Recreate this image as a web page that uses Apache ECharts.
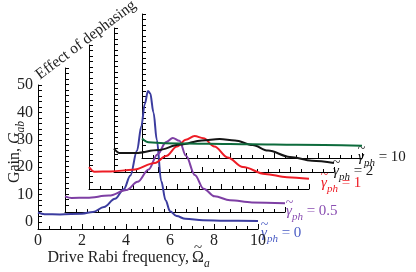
<!DOCTYPE html>
<html><head><meta charset="utf-8">
<script src="https://cdn.jsdelivr.net/npm/echarts@6/dist/echarts.min.js"></script>
<style>html,body{margin:0;padding:0;background:#fff}#c{width:416px;height:272px}</style>
</head><body><div id="c"></div>
<script>
// ---- data ----
const xTickLabels = [0, 2, 4, 6, 8, 10];
const yTickLabels = [0, 10, 20, 30, 40, 50];
const gammaValues = ['0', '0.5', '1', '2', '10'];

const xG0 = [0, 0.3, 1, 2, 2.5, 3, 3.5, 3.9, 4.2, 4.5, 4.7, 4.85, 5.0, 5.1, 5.25, 5.4, 5.6, 5.8, 6.0, 6.3, 6.7, 7.5, 8.5, 10];
const yG0 = [3.5, 2.9, 2.8, 3.1, 3.7, 5.5, 8.5, 12, 17, 26, 35, 43, 47.8, 47, 40, 30, 15, 8, 4, 2.2, 1.2, 0.7, 0.5, 0.4];

const xG05 = [0, 0.3, 1, 2, 2.8, 3.3, 3.8, 4.2, 4.6, 4.9, 5.2, 5.5, 5.9, 6.3, 6.8, 7.5, 8.5, 10];
const yG05 = [3.2, 2.6, 2.7, 3.5, 5.5, 8.5, 13, 18.5, 23, 24.5, 23.5, 18, 11, 6, 3.2, 1.8, 1.0, 0.7];

const xG1 = [0, 0.25, 1, 2, 3, 3.5, 4, 4.4, 4.8, 5.2, 5.7, 6.3, 7, 8, 9, 10];
const yG1 = [5.5, 3.8, 3.9, 4.5, 7, 9.5, 13, 15.5, 16.8, 16, 13, 9, 5.5, 3, 1.8, 1.2];

const xG2 = [0, 0.25, 1, 2, 3, 4, 4.8, 5.5, 6.3, 7, 8, 9, 10];
const yG2 = [6, 4.4, 4.4, 5.5, 7.5, 9, 9.5, 9, 7.3, 5.3, 3, 1.6, 0.8];

const xG10 = [0, 0.3, 1, 3, 5, 7, 10];
const yG10 = [4.6, 3.2, 2.9, 2.7, 2.5, 2.3, 2.0];

const seriesX = [xG0, xG05, xG1, xG2, xG10];
const seriesY = [yG0, yG05, yG1, yG2, yG10];

// ---- layout / style ----
const lineColors = ['#3b3c9f', '#7e3fa4', '#ee1c25', '#151515', '#0d6b3c'];
const labelColors = ['#4a5cc4', '#8a4fb2', '#ee1c25', '#1a1a1a', '#1a1a1a'];
const panelPos = [[38, 85], [65, 68], [89, 45], [114, 28], [142, 14]];
const labelPos = [[261, 233], [286, 211], [321, 183], [333, 171], [358, 157]];
const FONT = 'Liberation Serif';

const yTickVals = [];
for (let v = 0; v <= 50; v += 2) yTickVals.push(v);

const grid = [], xAxis = [], yAxis = [], series = [];
panelPos.forEach((p, i) => {
  grid.push({ left: p[0], top: p[1], width: 220, height: 144 });
  xAxis.push({
    type: 'value', gridIndex: i, min: 0, max: 10, interval: 2, position: 'bottom',
    axisLine: { show: true, onZero: false, lineStyle: { color: '#000', width: 1 } },
    axisTick: { show: true, inside: true, length: 5, lineStyle: { color: '#000' } },
    minorTick: { show: true, splitNumber: 4, length: 3, lineStyle: { color: '#000' } },
    axisLabel: { show: i === 0, fontFamily: FONT, fontSize: 16, color: '#222', margin: 4 },
    splitLine: { show: false }, minorSplitLine: { show: false }
  });
  yAxis.push({
    type: 'value', gridIndex: i, min: -2.5, max: 50, position: 'left',
    axisLine: { show: true, onZero: false, lineStyle: { color: '#000', width: 1 } },
    axisTick: { show: true, inside: true, length: 4, customValues: yTickVals, lineStyle: { color: '#000' } },
    axisLabel: { show: i === 0, customValues: yTickLabels, fontFamily: FONT, fontSize: 16, color: '#222', margin: 5 },
    splitLine: { show: false }
  });
  series.push({
    type: 'line', xAxisIndex: i, yAxisIndex: i,
    data: seriesX[i].map((x, k) => [x, seriesY[i][k]]),
    showSymbol: false, smooth: 0.35, smoothMonotone: 'x',
    lineStyle: { color: lineColors[i], width: 2 }, z: 3 + i
  });
});

const graphic = [];
const GS = 15;
gammaValues.forEach((g, i) => {
  const c = labelColors[i];
  graphic.push({
    type: 'group', x: labelPos[i][0], y: labelPos[i][1], z: 10,
    children: [
      {
        type: 'text', x: 0, y: 0,
        style: {
          text: '{g|γ}{s|ph}{e| = ' + g + '}', align: 'left', verticalAlign: 'middle',
          rich: {
            g: { fontFamily: FONT, fontSize: GS, fontStyle: 'italic', fill: c, lineHeight: 24, verticalAlign: 'middle' },
            s: { fontFamily: FONT, fontSize: 11, fontStyle: 'italic', fill: c, lineHeight: 12, verticalAlign: 'bottom' },
            e: { fontFamily: FONT, fontSize: GS, fill: c, lineHeight: 24, verticalAlign: 'middle' }
          }
        }
      },
      {
        type: 'text', x: 3.5, y: -8,
        style: { text: '~', fontFamily: FONT, fontSize: 14, fill: c, align: 'center', verticalAlign: 'middle' }
      }
    ]
  });
});

// y-axis title
graphic.push({
  type: 'text', x: 15, y: 152, rotation: Math.PI / 2, z: 10,
  style: {
    text: '{n|Gain, }{i|G}{s|ab}', align: 'center', verticalAlign: 'middle',
    rich: {
      n: { fontFamily: FONT, fontSize: 16, fill: '#222', lineHeight: 24, verticalAlign: 'middle' },
      i: { fontFamily: FONT, fontSize: 16, fontStyle: 'italic', fill: '#222', lineHeight: 24, verticalAlign: 'middle' },
      s: { fontFamily: FONT, fontSize: 11.5, fontStyle: 'italic', fill: '#222', lineHeight: 12, verticalAlign: 'bottom' }
    }
  }
});

// x-axis title: text part right-aligned, symbol part left-aligned
const XT = 189;
graphic.push({
  type: 'text', x: XT, y: 258, z: 10,
  style: { text: 'Drive Rabi frequency,', fontFamily: FONT, fontSize: 16, fill: '#222', align: 'right', verticalAlign: 'middle' }
});
graphic.push({
  type: 'group', x: XT + 3, y: 258, z: 10,
  children: [
    {
      type: 'text', x: 0, y: 0,
      style: {
        text: '{o|Ω}{s|a}', align: 'left', verticalAlign: 'middle',
        rich: {
          o: { fontFamily: FONT, fontSize: 16, fill: '#222', lineHeight: 24, verticalAlign: 'middle' },
          s: { fontFamily: FONT, fontSize: 11.5, fontStyle: 'italic', fill: '#222', lineHeight: 12, verticalAlign: 'bottom' }
        }
      }
    },
    {
      type: 'text', x: 6, y: -10,
      style: { text: '~', fontFamily: FONT, fontSize: 15, fill: '#222', align: 'center', verticalAlign: 'middle' }
    }
  ]
});

// panel title
graphic.push({
  type: 'text', x: 86, y: 40, rotation: 37 * Math.PI / 180, z: 10,
  style: { text: 'Effect of dephasing', fontFamily: FONT, fontSize: 15.5, fill: '#222', align: 'center', verticalAlign: 'middle' }
});

const chart = echarts.init(document.getElementById('c'), null, { renderer: 'canvas' });
chart.setOption({
  animation: false,
  backgroundColor: '#fff',
  grid, xAxis, yAxis, series, graphic
});
</script>
</body></html>
